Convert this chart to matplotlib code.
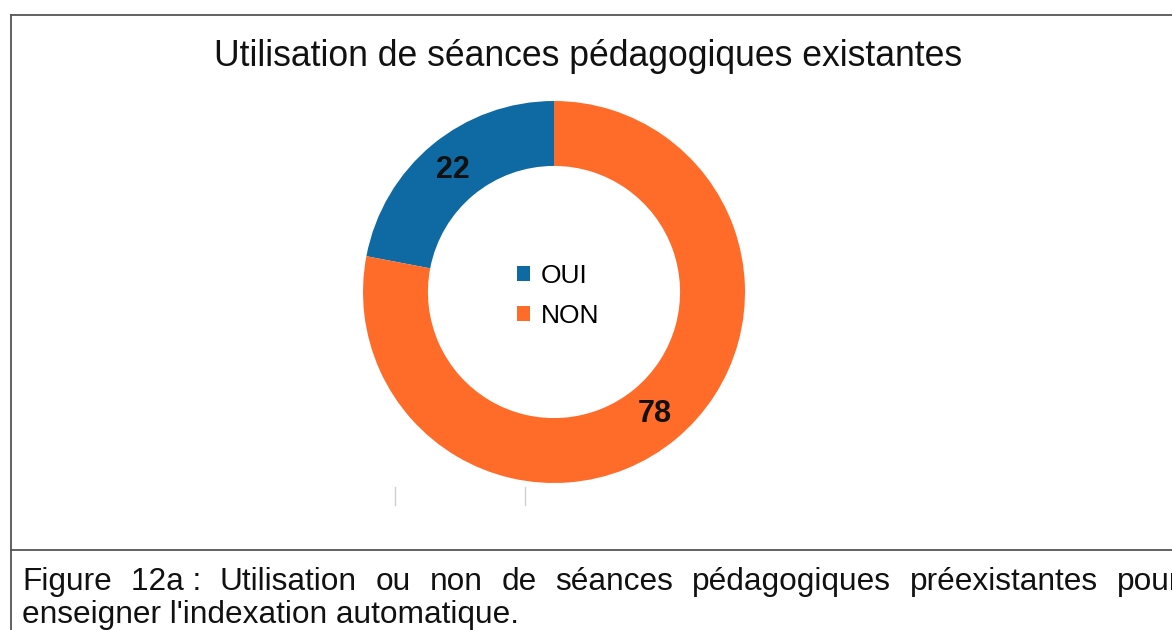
import matplotlib
matplotlib.use("Agg")
import matplotlib.pyplot as plt

plt.rcParams.update({
    "font.family": ["Liberation Sans", "DejaVu Sans"],
})

# données
categories = ["OUI", "NON"]
values = [22, 78]
colors = ["#0f6aa3", "#ff6b29"]

title = "Utilisation de séances pédagogiques existantes"
caption_l1 = "Figure 12a\u00a0: Utilisation ou non de séances pédagogiques préexistantes pour"
caption_l2 = "enseigner l'indexation automatique."

W, H = 1172, 630
fig = plt.figure(figsize=(W / 100, H / 100), dpi=100)

# overlay in pixel coordinates for frame + caption
bg = fig.add_axes([0, 0, 1, 1])
bg.set_xlim(0, W)
bg.set_ylim(H, 0)
bg.axis("off")

frame_col = "#555555"
bg.plot([11, W + 5], [15, 15], color=frame_col, lw=1.3)
bg.plot([11, 11], [15, H + 5], color=frame_col, lw=1.3)
bg.plot([11, W + 5], [550, 550], color=frame_col, lw=1.3)

# small grey marks under the chart
for x in (395, 525):
    bg.plot([x, x], [487, 505], color="#cfcfcf", lw=1.0)

bg.text(588, 66, title, ha="center", va="baseline", fontsize=25.6, color="#111111")

# donut
cx, cy, r = 554, 292, 191
ax = fig.add_axes([(cx - r) / W, (H - cy - r) / H, 2 * r / W, 2 * r / H])
wedges, _, autotexts = ax.pie(
    values, colors=colors, startangle=90, counterclock=True,
    radius=1.0, wedgeprops=dict(width=0.34, linewidth=0),
    autopct=lambda p: f"{p:.0f}", pctdistance=0.83,
    textprops=dict(fontsize=22, fontweight="bold", color="#111111"),
)
ax.set_xlim(-1, 1)
ax.set_ylim(-1, 1)
ax.set_aspect("equal")
ax.axis("off")
ax.legend(wedges, categories, loc="center", bbox_to_anchor=(0.51, 0.49),
          frameon=False, fontsize=19, handlelength=0.5, handleheight=0.5,
          handletextpad=0.4, labelspacing=0.6)

# justified caption, first line
fig.canvas.draw()
renderer = fig.canvas.get_renderer()
words = caption_l1.split(" ")
left, right, y1 = 22, 1180, 590
tmp = []
widths = []
for w in words:
    t = bg.text(0, y1, w, fontsize=22.8, ha="left", va="baseline", color="#111111")
    bb = t.get_window_extent(renderer)
    widths.append(bb.width)
    tmp.append(t)
gap = (right - left - sum(widths)) / (len(words) - 1)
x = left
for t, wd in zip(tmp, widths):
    t.set_x(x)
    x += wd + gap

bg.text(left, 623, caption_l2, fontsize=22.8, ha="left", va="baseline", color="#111111")

fig.savefig("out.png", dpi=100)
